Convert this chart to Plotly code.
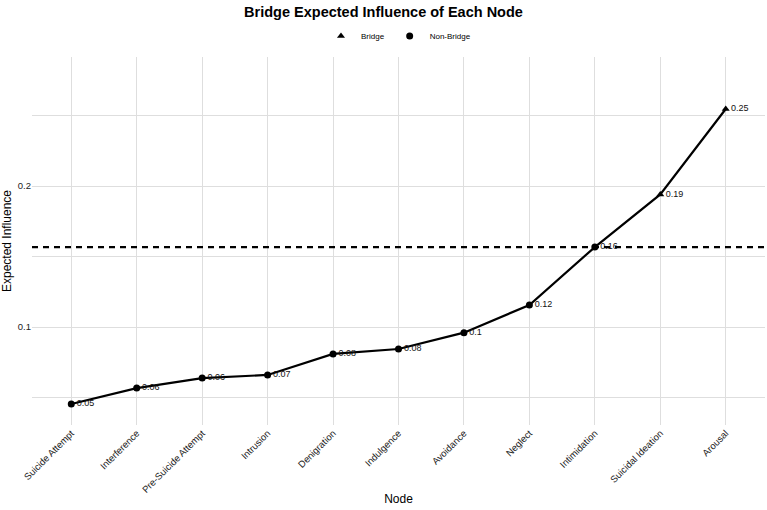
import plotly.graph_objects as go

nodes = ["Suicide Attempt", "Interference", "Pre-Suicide Attempt", "Intrusion",
         "Denigration", "Indulgence", "Avoidance", "Neglect", "Intimidation",
         "Suicidal Ideation", "Arousal"]
values = [0.0454, 0.0567, 0.0638, 0.0660, 0.0809, 0.0844, 0.0960, 0.1156,
          0.1567, 0.1940, 0.2546]
group = ["Non-Bridge"] * 9 + ["Bridge"] * 2
threshold = 0.1567

def fmt(v):
    return f"{round(v, 2):g}"

fig = go.Figure()
fig.add_trace(go.Scatter(x=nodes, y=values, mode="lines",
                         line=dict(color="black", width=2.2), showlegend=False,
                         hoverinfo="skip"))
for g, sym in [("Bridge", "triangle-up"), ("Non-Bridge", "circle")]:
    xs = [n for n, gg in zip(nodes, group) if gg == g]
    ys = [v for v, gg in zip(values, group) if gg == g]
    fig.add_trace(go.Scatter(x=xs, y=ys, mode="markers+text", name=g,
                             marker=dict(symbol=sym, color="black", size=7),
                             text=[fmt(v) for v in ys], textposition="middle right",
                             textfont=dict(size=9, color="#111111",
                                           family="Liberation Sans")))

fig.add_hline(y=threshold, line=dict(color="black", width=2.2, dash="6px,5px"))

fig.update_layout(
    width=767, height=510,
    margin=dict(l=32, r=2, t=57, b=85, autoexpand=False),
    paper_bgcolor="white", plot_bgcolor="white",
    font=dict(family="Liberation Sans", color="black"),
    title=dict(text="<b>Bridge Expected Influence of Each Node</b>", x=0.5,
               xanchor="center", y=0.977, yanchor="middle",
               font=dict(size=14.5, color="black")),
    legend=dict(orientation="h", x=0.5, xanchor="center", y=0.958,
                yref="container", yanchor="top", font=dict(size=8),
                itemwidth=30, tracegroupgap=0),
    showlegend=True,
)
fig.update_xaxes(
    title=dict(text="Node", font=dict(size=12), standoff=0),
    range=[-0.6, 10.6], tickangle=-45, tickfont=dict(size=9.5, color="#222222"),
    showgrid=True, gridcolor="#dedede", gridwidth=1, zeroline=False,
    showline=False, ticks="", automargin=False,
)
fig.update_yaxes(
    title=dict(text="Expected Influence", font=dict(size=12), standoff=6),
    range=[0.0305, 0.2915], tickvals=[0.1, 0.2], ticktext=["0.1", "0.2"],
    tickfont=dict(size=9.5, color="#222222"),
    showgrid=True, gridcolor="#dedede", gridwidth=1, zeroline=False,
    minor=dict(tickvals=[0.05, 0.15, 0.25], showgrid=True, gridcolor="#dedede",
               gridwidth=1),
    ticks="", showline=False, automargin=False,
)
fig.write_html("out.html")
